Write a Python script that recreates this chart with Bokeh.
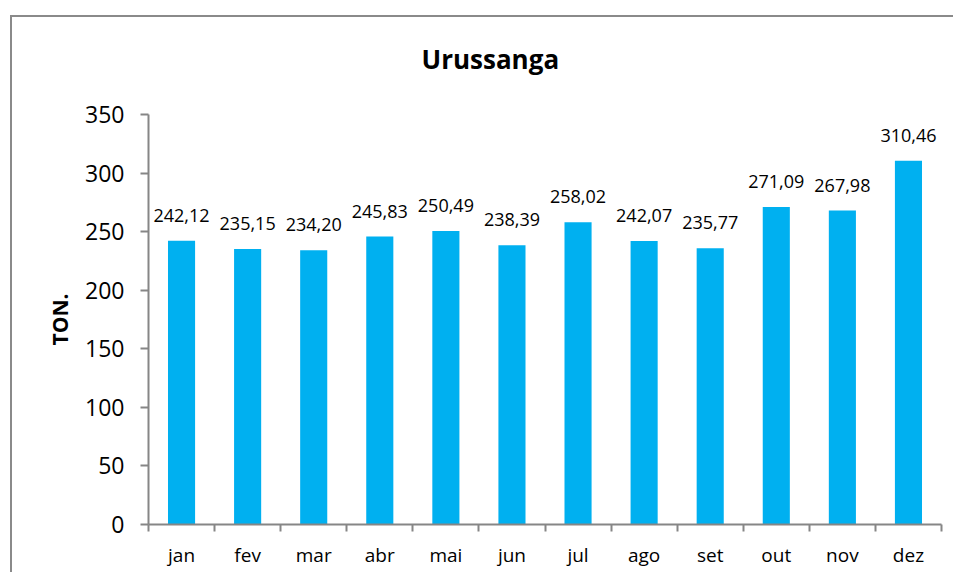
from bokeh.plotting import figure
from bokeh.models import (ColumnDataSource, LabelSet, FixedTicker, Range1d)
from bokeh.core.properties import value
from bokeh.embed import file_html
from bokeh.resources import INLINE

months = ["jan", "fev", "mar", "abr", "mai", "jun", "jul", "ago", "set", "out", "nov", "dez"]
values = [242.12, 235.15, 234.20, 245.83, 250.49, 238.39, 258.02, 242.07, 235.77, 271.09, 267.98, 310.46]
y_ticks = [0, 50, 100, 150, 200, 250, 300, 350]
title_text = "Urussanga"
y_label = "TON."

FONT = "Open Sans"
AXIS_COLOR = "#868686"
BAR_COLOR = "#00B0F0"
FRAME_COLOR = "#8a8a8a"

xs = [i + 0.5 for i in range(len(months))]
labels = [f"{v:.2f}".replace(".", ",") for v in values]
src = ColumnDataSource(dict(x=xs, top=values, label=labels))

p = figure(width=953, height=572, output_backend="svg", toolbar_location=None,
           x_range=Range1d(0, len(months)), y_range=Range1d(0, 350),
           min_border_left=148, min_border_right=12, min_border_top=0, min_border_bottom=48,
           title=title_text)
# outer chart frame (left and top edges, as in the reference)
p.styles = {
    "background-color": "white",
    "background-image": f"linear-gradient({FRAME_COLOR}, {FRAME_COLOR}), linear-gradient({FRAME_COLOR}, {FRAME_COLOR})",
    "background-size": "2px 100%, 100% 2px",
    "background-position": "10px 15px, 10px 15px",
    "background-repeat": "no-repeat",
}
p.border_fill_alpha = 0
p.outline_line_color = None
p.xgrid.grid_line_color = None
p.ygrid.grid_line_color = None
p.background_fill_color = "white"

p.title.align = "left"
p.title.offset = 273
p.title.standoff = 76
p.title.text_font = FONT
p.title.text_font_size = "26px"
p.title.text_font_style = "bold"
p.title.text_color = "black"

p.vbar(x="x", top="top", width=0.41, bottom=0, source=src, fill_color=BAR_COLOR, line_color=None)

# x axis
xt = FixedTicker(ticks=xs, minor_ticks=list(range(len(months) + 1)))
p.xaxis.ticker = xt
p.xaxis.major_label_overrides = {x: m for x, m in zip(xs, months)}
p.xaxis.major_tick_out = 0
p.xaxis.major_tick_in = 0
p.xaxis.minor_tick_out = 7
p.xaxis.minor_tick_in = 0
p.xaxis.minor_tick_line_color = AXIS_COLOR
p.xaxis.minor_tick_line_width = 2
p.xaxis.axis_line_color = AXIS_COLOR
p.xaxis.axis_line_width = 2
p.xaxis.major_label_text_font = FONT
p.xaxis.major_label_text_font_size = "19px"
p.xaxis.major_label_text_color = "black"
p.xaxis.major_label_standoff = 10

# y axis
p.yaxis.ticker = FixedTicker(ticks=y_ticks, minor_ticks=[])
p.yaxis.major_tick_out = 8
p.yaxis.major_tick_in = 0
p.yaxis.major_tick_line_color = AXIS_COLOR
p.yaxis.major_tick_line_width = 2
p.yaxis.axis_line_color = AXIS_COLOR
p.yaxis.axis_line_width = 2
p.yaxis.major_label_text_font = FONT
p.yaxis.major_label_text_font_size = "23px"
p.yaxis.major_label_text_color = "black"
p.yaxis.major_label_standoff = 16
p.yaxis.axis_label = y_label
p.yaxis.axis_label_text_font = FONT
p.yaxis.axis_label_text_font_size = "21px"
p.yaxis.axis_label_text_font_style = "bold"
p.yaxis.axis_label_text_color = "black"
p.yaxis.axis_label_standoff = 8

# data labels
p.add_layout(LabelSet(x="x", y="top", text="label", source=src, text_align="center",
                      text_baseline="alphabetic", y_offset=19, text_font=value(FONT),
                      text_font_size=value("18px"), text_color="black"))

open("out.html", "w").write(file_html(p, INLINE))
